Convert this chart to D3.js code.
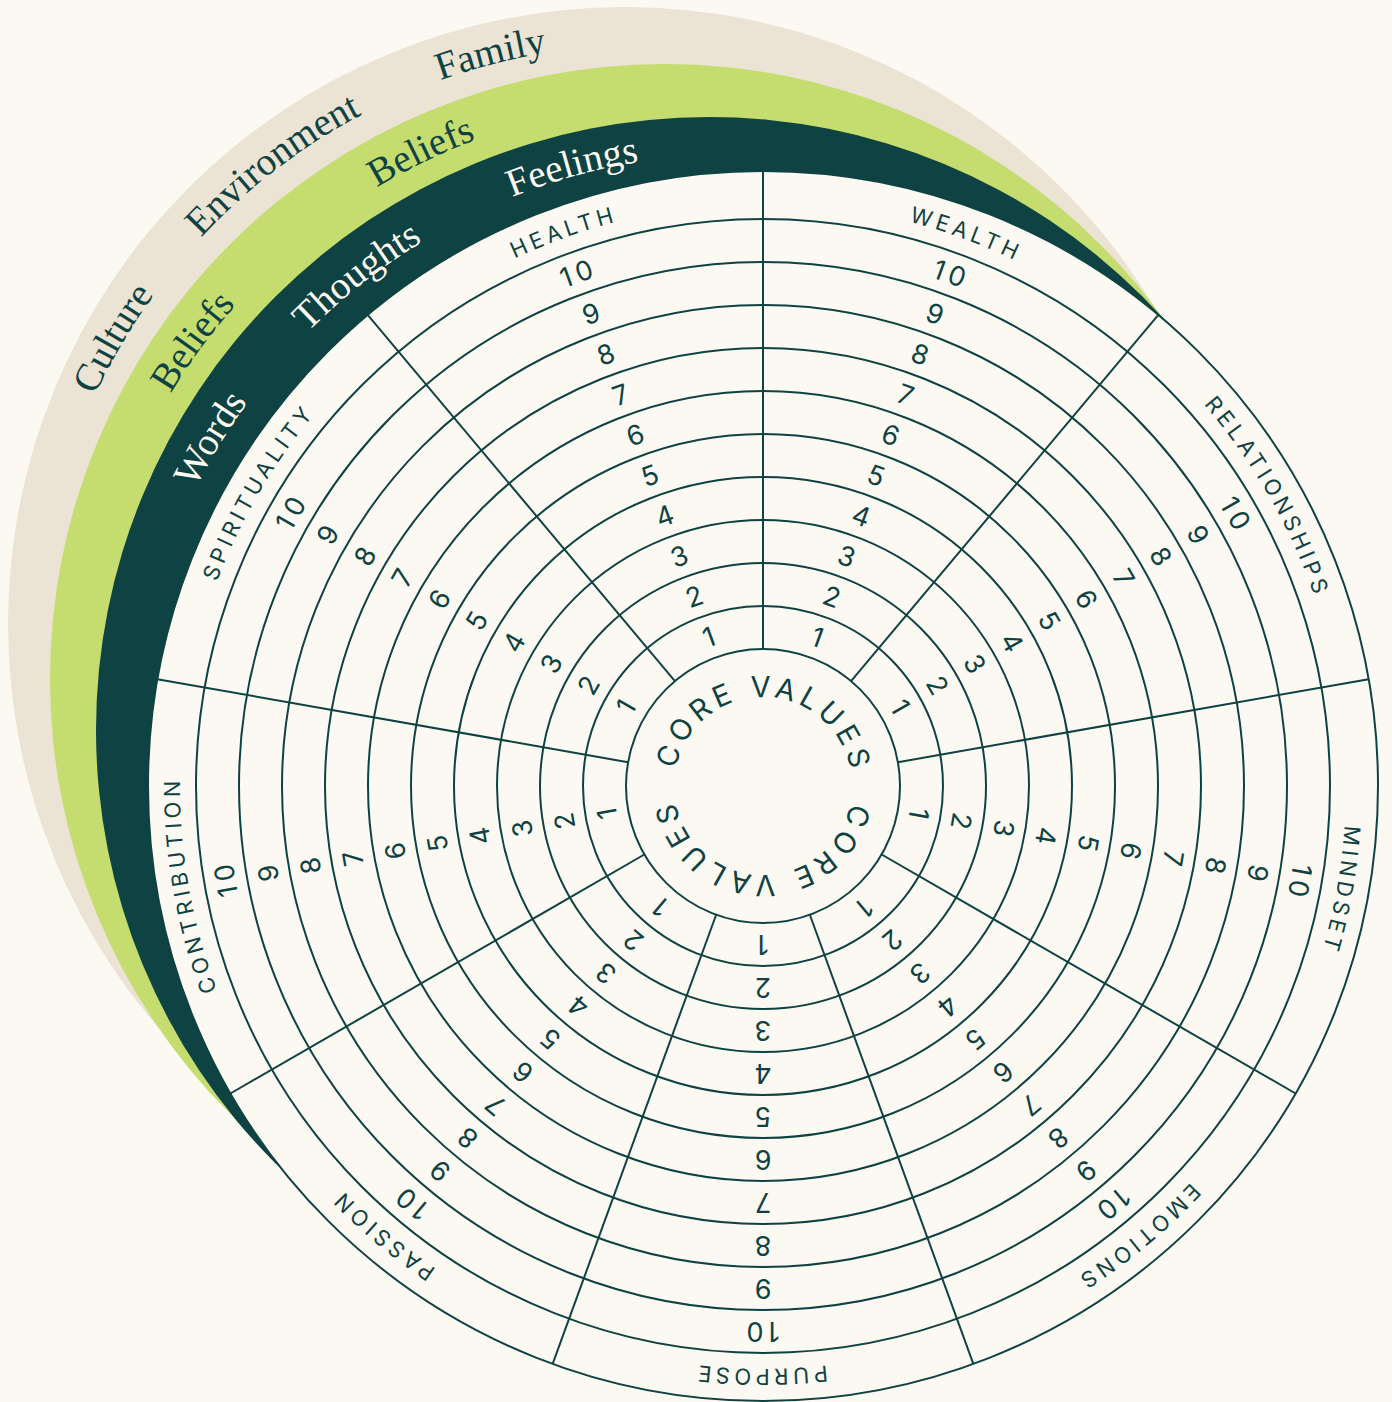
<!DOCTYPE html>
<html><head><meta charset="utf-8">
<script src="https://cdn.jsdelivr.net/npm/d3@7"></script>
<style>
html,body{margin:0;padding:0;background:#FCF9F2;}
svg{display:block}
</style></head>
<body>
<svg id="chart" width="1392" height="1402"></svg>
<script>
// ---------- data ----------
const categories = ["HEALTH","WEALTH","RELATIONSHIPS","MINDSET","EMOTIONS","PURPOSE","PASSION","CONTRIBUTION","SPIRITUALITY"];
const scoreLevels = [1,2,3,4,5,6,7,8,9,10];
const centerLabel = "CORE VALUES";
const outerWords = ["Culture","Environment","Family"];
const middleWords = ["Beliefs","Beliefs"];
const innerWords = ["Words","Thoughts","Feelings"];

// ---------- layout ----------
const W = 1392, H = 1402;
const cx = 763, cy = 786;
const Rcore = 137, Rrings = 567, Rout = 615;
const INK = "#0F4242", BG = "#FCF9F2";
const bands = [
  {fill:"#EBE3D3", c:[625,624], r:617, words: outerWords, angles:[-59.5,-37.4,-14.5], mid:[645,651.5], rm:617, color:INK},
  {fill:"#C5DC6F", c:[665,679], r:615, words: middleWords, angles:[-53.7,-25.7], mid:[687,704.5], rm:613, color:INK},
  {fill:"#0F4242", c:[709,730], r:613, words: innerWords, angles:[-58.7,-38.2,-15.5], mid:[736,758], rm:614, color:BG}
];

const svg = d3.select("#chart");
const defs = svg.append("defs");
svg.append("rect").attr("width",W).attr("height",H).attr("fill",BG);

const rad = d => d*Math.PI/180;
function pt(x0,y0,r,a){ return [x0 + r*Math.sin(rad(a)), y0 - r*Math.cos(rad(a))]; }
function arcPath(x0,y0,r,centerDeg){
  const p0 = pt(x0,y0,r,centerDeg-90), p1 = pt(x0,y0,r,centerDeg+90);
  return `M${p0[0]},${p0[1]} A${r},${r} 0 0 1 ${p1[0]},${p1[1]}`;
}
let pid = 0;
function curvedText(g, x0,y0,r,centerDeg,text,attrs){
  const id = "p"+(pid++);
  defs.append("path").attr("id",id).attr("d",arcPath(x0,y0,r,centerDeg));
  const t = g.append("text").attr("text-anchor","middle");
  Object.entries(attrs).forEach(([k,v])=>t.attr(k,v));
  t.append("textPath").attr("href","#"+id).attr("startOffset","50%").text(text);
  return t;
}

// ---------- colored bands ----------
bands.forEach(b=>{
  svg.append("circle").attr("cx",b.c[0]).attr("cy",b.c[1]).attr("r",b.r).attr("fill",b.fill);
});
const bandText = svg.append("g");
bands.forEach(b=>{
  b.words.forEach((w,i)=>{
    curvedText(bandText, b.mid[0], b.mid[1], b.rm-10, b.angles[i], w, {
      "font-family":"'Liberation Serif', serif", "font-size":39, "fill":b.color
    });
  });
});

// ---------- main wheel ----------
const g = svg.append("g").attr("transform",`translate(${cx},${cy})`);
g.append("circle").attr("r",Rout).attr("fill",BG).attr("stroke",INK).attr("stroke-width",2);

const rScale = d3.scaleLinear().domain([0,10]).range([Rcore,Rrings]);
const aScale = d3.scaleBand().domain(categories).range([-40,320]);

// rings
g.selectAll("circle.ring").data([0].concat(scoreLevels)).join("circle")
  .attr("class","ring").attr("r",d=>rScale(d))
  .attr("fill","none").attr("stroke",INK).attr("stroke-width",2);

// dividers
g.selectAll("line.div").data(categories).join("line")
  .attr("class","div")
  .attr("x1",d=>Rcore*Math.sin(rad(aScale(d))))
  .attr("y1",d=>-Rcore*Math.cos(rad(aScale(d))))
  .attr("x2",d=>Rout*Math.sin(rad(aScale(d))))
  .attr("y2",d=>-Rout*Math.cos(rad(aScale(d))))
  .attr("stroke",INK).attr("stroke-width",2);

// score numbers
categories.forEach(c=>{
  const a = aScale(c) + aScale.bandwidth()/2;
  g.selectAll(null).data(scoreLevels).join("text")
    .attr("transform",`rotate(${a})`)
    .attr("x",2.5).attr("y",d=>-rScale(d-0.5)).attr("dy","0.36em")
    .attr("text-anchor","middle")
    .attr("font-family","Inter, 'Open Sans', sans-serif")
    .attr("font-size",27).attr("letter-spacing",5).attr("fill",INK)
    .text(d=>d);
});

// category labels
const labelR = (Rrings+Rout)/2 - 8;
categories.forEach(c=>{
  const a = aScale(c) + aScale.bandwidth()/2;
  curvedText(g, 0,0,labelR,a,c,{
    "font-family":"Inter, 'Open Sans', sans-serif","font-size":22,"letter-spacing":4.2,"fill":INK,"dx":2.1
  });
});

// core values
[0,180].forEach(a=>{
  const t = curvedText(g,0,0,89,a,centerLabel,{
    "font-family":"Inter, 'Open Sans', sans-serif","font-size":29,"fill":INK
  });
  const natural = t.node().getComputedTextLength();
  const target = 246;
  const ls = (target - natural)/(centerLabel.length-1);
  t.attr("letter-spacing",ls).attr("dx",ls/2);
});
</script>
</body></html>
